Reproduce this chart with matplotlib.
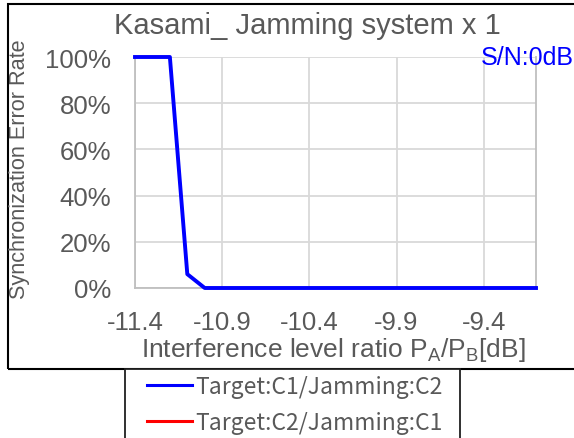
import numpy as np
import matplotlib
matplotlib.use("Agg")
from matplotlib import pyplot as plt
from matplotlib.patches import Rectangle

# data
ratio_db = [-11.4, -11.3, -11.2, -11.1, -11.0, -10.9, -10.8, -10.7, -10.6, -10.5,
            -10.4, -10.3, -10.2, -10.1, -10.0, -9.9, -9.8, -9.7, -9.6, -9.5,
            -9.4, -9.3, -9.2, -9.1]
err_c1_c2 = [1.0, 1.0, 1.0, 0.06, 0.0, 0.0, 0.0, 0.0, 0.0, 0.0,
             0.0, 0.0, 0.0, 0.0, 0.0, 0.0, 0.0, 0.0, 0.0, 0.0,
             0.0, 0.0, 0.0, 0.0]
err_c2_c1 = [1.0, 1.0, 1.0, 0.06, 0.0, 0.0, 0.0, 0.0, 0.0, 0.0,
             0.0, 0.0, 0.0, 0.0, 0.0, 0.0, 0.0, 0.0, 0.0, 0.0,
             0.0, 0.0, 0.0, 0.0]
xticks = [-11.4, -10.9, -10.4, -9.9, -9.4]
yticks = [0, 0.2, 0.4, 0.6, 0.8, 1.0]

plt.rcParams['font.family'] = ['Liberation Sans', 'DejaVu Sans']
gray_txt = '#595959'
W, H = 574, 439

fig = plt.figure(figsize=(W / 100, H / 100), dpi=100)

# outer chart frame
frame = Rectangle((8 / W, 1 - 370 / H), 600 / W, (370 - 5) / H, transform=fig.transFigure,
                  fill=False, edgecolor='black', linewidth=1.5, zorder=0)
fig.patches.append(frame)

# legend box (runs off the bottom of the picture)
legbox = Rectangle((125 / W, 1 - 460 / H), (460 - 125) / W, 90 / H, transform=fig.transFigure,
                   facecolor='white', edgecolor='#202020', linewidth=1.3, zorder=4)
fig.patches.append(legbox)

ax = fig.add_axes([135 / W, 1 - 289 / H, (536 - 135) / W, (289 - 58) / H])
ax.set_facecolor('none')

# red series sits under the blue one (same values)
red_line, = ax.plot(ratio_db, err_c2_c1, color='red', lw=1.6, zorder=3, clip_on=False)
blue_line, = ax.plot(ratio_db, err_c1_c2, color='blue', lw=2.8, zorder=4, clip_on=False)

ax.set_xlim(-11.4, -9.1)
ax.set_ylim(0, 1)
ax.set_xticks(xticks)
ax.set_xticklabels(['-11.4', '-10.9', '-10.4', '-9.9', '-9.4'])
ax.set_yticks(yticks)
ax.set_yticklabels(['0%', '20%', '40%', '60%', '80%', '100%'])
ax.grid(True, color='#d9d9d9', lw=1.3)
ax.tick_params(length=0, labelsize=18.5, labelcolor=gray_txt)
ax.tick_params(axis='x', pad=16)
ax.tick_params(axis='y', pad=17)
for s in ['left', 'bottom', 'right']:
    ax.spines[s].set_color('#bfbfbf')
    ax.spines[s].set_linewidth(1.3)
ax.spines['top'].set_visible(False)

fig.text(307 / W, 1 - 26 / H, 'Kasami_ Jamming system x 1', ha='center', va='center',
         fontsize=21, color=gray_txt)
fig.text(20 / W, 1 - 169 / H, 'Synchronization Error Rate', rotation=90, ha='center',
         va='center', fontsize=15.6, color=gray_txt)
fig.text(333 / W, 1 - 357 / H, r'Interference level ratio P$_\mathregular{A}$/P$_\mathregular{B}$[dB]',
         ha='center', va='baseline', fontsize=19, color=gray_txt)
fig.text(481 / W, 1 - 58 / H, 'S/N:0dB', ha='left', va='center', fontsize=18, color='blue')

leg = fig.legend([blue_line, red_line], ['Target:C1/Jamming:C2', 'Target:C2/Jamming:C1'],
                 loc='upper left', bbox_to_anchor=(147 / W, 1 - 376 / H), borderaxespad=0,
                 handlelength=1.95, handletextpad=0.15, borderpad=0,
                 labelspacing=0.55, frameon=False,
                 prop={'family': ['Noto Sans CJK JP', 'DejaVu Sans'], 'size': 16.5})
leg.set_zorder(5)
for t in leg.get_texts():
    t.set_color(gray_txt)
for l in leg.get_lines():
    l.set_linewidth(2.2)

fig.savefig('out.png', dpi=100)
